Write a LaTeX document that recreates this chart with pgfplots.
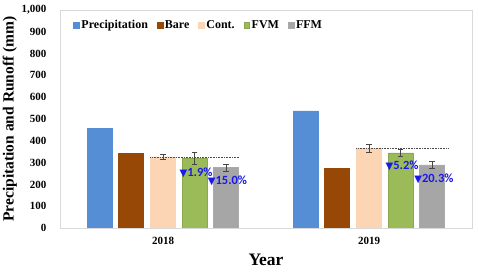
\documentclass[border=0pt]{standalone}
\usepackage{fontspec}
\setmainfont{Liberation Serif}
\newfontfamily\lblfont{Carlito}
\newfontfamily\symfont{DejaVu Sans}
\usepackage{pgfplots}
\pgfplotsset{compat=1.18}

\definecolor{cPrec}{RGB}{85,142,213}
\definecolor{cBare}{RGB}{151,71,6}
\definecolor{cCont}{RGB}{252,213,181}
\definecolor{cFVM}{RGB}{155,187,89}
\definecolor{cFFM}{RGB}{166,166,166}
\definecolor{cFrame}{RGB}{217,217,217}
\definecolor{cPct}{RGB}{25,25,235}
\definecolor{cErr}{RGB}{70,70,70}

\newcommand{\pct}[1]{\textcolor{cPct}{{\symfont\fontsize{10}{11}\selectfont ▼}{\lblfont\bfseries\fontsize{12.5}{14}\selectfont #1}}}

\begin{document}
\begin{tikzpicture}
\begin{axis}[
  name=ax,
  scale only axis,
  width=412pt, height=218pt,
  xmin=-0.5, xmax=1.5,
  ymin=0, ymax=1000,
  ytick={0,100,...,1000},
  xtick={0,1},
  xticklabels={2018,2019},
  axis line style={cFrame},
  major tick length=0pt,
  ybar, bar width=0.121, bar shift=0pt,
  /pgf/number format/assume math mode=true,
  /pgf/number format/1000 sep={,},
  tick label style={font=\bfseries\fontsize{11}{13}\selectfont},
  yticklabel style={xshift=-10pt},
  xticklabel style={yshift=-6pt},
  xlabel={Year},
  ylabel={Precipitation and Runoff (mm)},
  label style={font=\bfseries\fontsize{15.5}{18}\selectfont},
  xlabel style={font=\bfseries\fontsize{17.5}{20}\selectfont, yshift=-2pt},
  ylabel style={yshift=-2pt},
  legend columns=5,
  legend style={draw=none, fill=none, at={(0.025,0.93)}, anchor=west,
    font=\bfseries\fontsize{12}{14}\selectfont,
    /tikz/every even column/.append style={column sep=7pt}},
  legend image code/.code={\fill[#1] (0pt,-2.6pt) rectangle (5.6pt,3pt);},
  error bars/error bar style={cErr, line width=0.6pt},
  error bars/error mark options={cErr, rotate=90, mark size=2.6pt, line width=0.6pt},
]
\addplot[fill=cPrec, draw=cPrec] coordinates {(-0.308,457) (0.692,537)};
\addlegendentry{Precipitation}
\addplot[fill=cBare, draw=cBare] coordinates {(-0.155,343) (0.845,274)};
\addlegendentry{Bare}
\addplot[fill=cCont, draw=cCont, error bars/.cd, y dir=both, y explicit]
  coordinates {(0,326) +- (0,12) (1,364) +- (0,19)};
\addlegendentry{Cont.}
\addplot[fill=cFVM, draw=cFVM!90!black, error bars/.cd, y dir=both, y explicit]
  coordinates {(0.153,320) +- (0,27) (1.153,345) +- (0,15)};
\addlegendentry{FVM}
\addplot[fill=cFFM, draw=cFFM!95!white, error bars/.cd, y dir=both, y explicit]
  coordinates {(0.306,277) +- (0,15) (1.306,290) +- (0,18)};
\addlegendentry{FFM}

% reference level of the control plots
\addplot[sharp plot, forget plot, black!70, densely dotted, line width=0.6pt]
  coordinates {(-0.061,326) (0.371,326)};
\addplot[sharp plot, forget plot, black!70, densely dotted, line width=0.6pt]
  coordinates {(0.939,364) (1.386,364)};

% reductions relative to Cont.
\node[anchor=west, inner sep=0pt] at (axis cs:0.080,252) {\pct{1.9\%}};
\node[anchor=west, inner sep=0pt] at (axis cs:0.217,215) {\pct{15.0\%}};
\node[anchor=west, inner sep=0pt] at (axis cs:1.080,284) {\pct{5.2\%}};
\node[anchor=west, inner sep=0pt] at (axis cs:1.219,225) {\pct{20.3\%}};
\end{axis}
\pgfresetboundingbox
\path ([shift={(-60pt,-44pt)}]ax.south west) rectangle ([shift={(6pt,10pt)}]ax.north east);
\end{tikzpicture}
\end{document}
